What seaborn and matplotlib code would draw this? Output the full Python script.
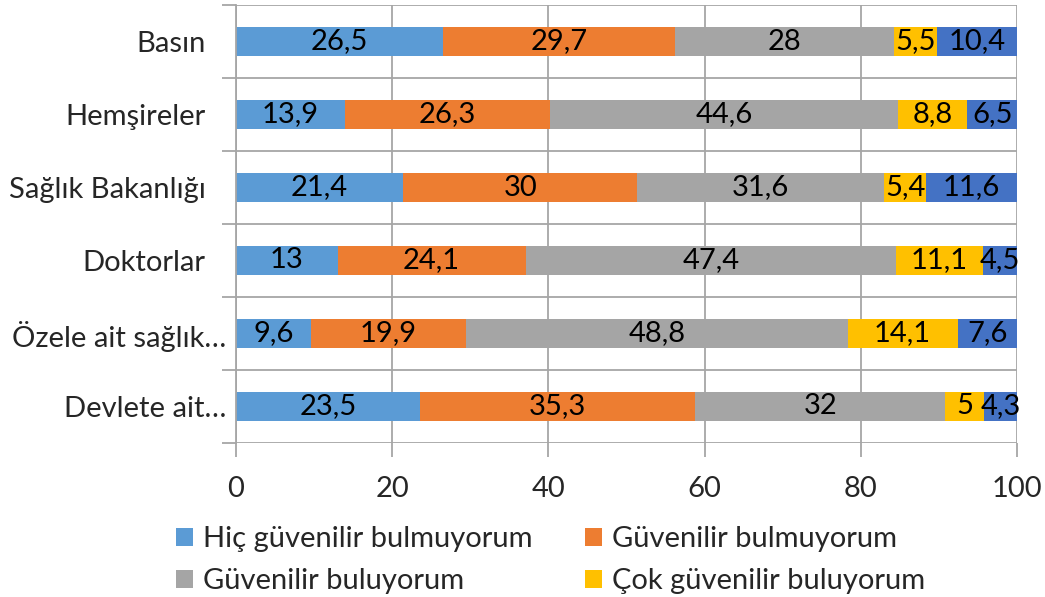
import matplotlib
matplotlib.use("Agg")
import matplotlib.pyplot as plt
from matplotlib.patches import Patch
import numpy as np
import pandas as pd
import seaborn as sns

categories = ["Basın", "Hemşireler", "Sağlık Bakanlığı", "Doktorlar",
              "Özele ait sağlık…", "Devlete ait…"]
series_names = ["Hiç güvenilir bulmuyorum", "Güvenilir bulmuyorum",
                "Güvenilir buluyorum", "Çok güvenilir buluyorum", "Fikrim yok"]
hic_guvenilir_bulmuyorum = [26.5, 13.9, 21.4, 13.0, 9.6, 23.5]
guvenilir_bulmuyorum = [29.7, 26.3, 30.0, 24.1, 19.9, 35.3]
guvenilir_buluyorum = [28.0, 44.6, 31.6, 47.4, 48.8, 32.0]
cok_guvenilir_buluyorum = [5.5, 8.8, 5.4, 11.1, 14.1, 5.0]
fikrim_yok = [10.4, 6.5, 11.6, 4.5, 7.6, 4.3]
x_ticks = [0, 20, 40, 60, 80, 100]

colors = ["#5B9BD5", "#ED7D31", "#A5A5A5", "#FFC000", "#4472C4"]
grid_color = "#A6A6A6"
FS = 21

sns.set_theme(style="white")
plt.rcParams["font.family"] = ["Lato", "DejaVu Sans"]

values = np.array([hic_guvenilir_bulmuyorum, guvenilir_bulmuyorum,
                   guvenilir_buluyorum, cok_guvenilir_buluyorum, fikrim_yok])
cum = values.cumsum(axis=0)

fig = plt.figure(figsize=(10.45, 5.97), dpi=100)
ax = fig.add_axes([236 / 1045, 1 - 443 / 597, (1017 - 236) / 1045, (443 - 5) / 597])

# stacked bars: draw cumulative totals from the outermost segment inwards
for i in range(len(series_names) - 1, -1, -1):
    df = pd.DataFrame({"category": categories, "value": cum[i]})
    sns.barplot(data=df, x="value", y="category", order=categories,
                color=colors[i], saturation=1, width=0.4, ax=ax,
                linewidth=0, zorder=2)

def fmt(v):
    s = f"{v:.1f}"
    if s.endswith(".0"):
        s = s[:-2]
    return s.replace(".", ",")

for i in range(len(series_names)):
    left = cum[i] - values[i]
    for j in range(len(categories)):
        ax.text(left[j] + values[i][j] / 2, j, fmt(values[i][j]),
                ha="center", va="center", fontsize=FS, color="black", zorder=3)

ax.set_xlim(0, 100)
ax.set_ylim(len(categories) - 0.5, -0.5)
ax.set_xticks(x_ticks)
ax.set_xticklabels([str(t) for t in x_ticks])
ax.set_yticks(range(len(categories)))
ax.set_yticklabels(categories)
ax.set_yticks(np.arange(-0.5, len(categories)), minor=True)
ax.set_xlabel("")
ax.set_ylabel("")

ax.grid(False)
ax.xaxis.grid(True, which="major", color=grid_color, linewidth=1.3, zorder=0)
ax.yaxis.grid(True, which="minor", color=grid_color, linewidth=1.3, zorder=0)
ax.set_axisbelow(True)
ax.tick_params(axis="x", which="major", length=10, width=1.3, color=grid_color,
               direction="out", labelsize=FS, pad=14, bottom=True)
ax.tick_params(axis="y", which="major", length=0, labelsize=FS, pad=22)
ax.tick_params(axis="y", which="minor", length=10, width=1.3, color=grid_color,
               direction="out", left=True)
# truncated category names sit closer to the axis
for k, tick in enumerate(ax.yaxis.get_major_ticks()):
    if categories[k].endswith("…"):
        tick.set_pad(7)
for side in ["top", "right", "bottom"]:
    ax.spines[side].set_visible(False)
ax.spines["left"].set_color(grid_color)
ax.spines["left"].set_linewidth(1.3)

order = [0, 2, 1, 3]
handles = [Patch(facecolor=colors[k], edgecolor="none") for k in order]
fig.legend(handles, [series_names[k] for k in order], ncol=2, loc="upper left",
           bbox_to_anchor=(176 / 1045, 1 - 526 / 597), frameon=False,
           fontsize=FS, handlelength=0.58, handleheight=0.58,
           handletextpad=0.35, columnspacing=1.8, labelspacing=0.55,
           borderpad=0, borderaxespad=0)

fig.savefig("out.png", dpi=100)
